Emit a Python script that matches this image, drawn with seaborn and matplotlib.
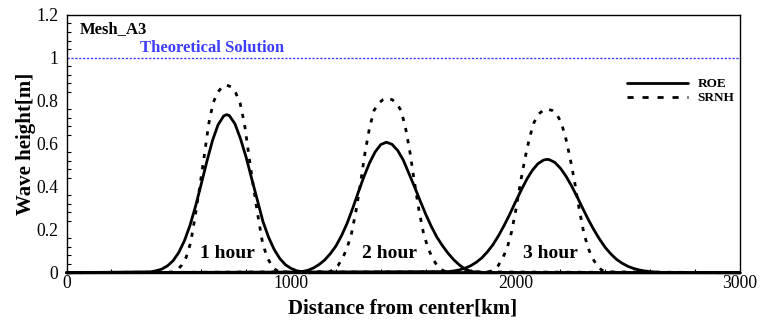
import matplotlib
matplotlib.use("Agg")
import numpy as np
import pandas as pd
import seaborn as sns
import matplotlib.pyplot as plt
from matplotlib.ticker import MultipleLocator, AutoMinorLocator, FuncFormatter
from matplotlib.lines import Line2D

# ---------------- data ----------------
roe1_x = [0, 375, 400, 425, 450, 475, 500, 525, 550, 575, 600, 625, 650, 675, 700, 713,
          725, 750, 775, 800, 825, 850, 875, 900, 925, 950, 975, 1000, 1025, 1050, 1075, 3000]
roe1_y = [0, 0.004, 0.009, 0.017, 0.032, 0.056, 0.094, 0.148, 0.220, 0.310, 0.412, 0.517, 0.614, 0.688, 0.729, 0.735,
          0.731, 0.693, 0.623, 0.537, 0.437, 0.338, 0.238, 0.165, 0.108, 0.066, 0.037, 0.020, 0.009, 0.004, 0.001, 0]

roe2_x = [0, 1025, 1050, 1075, 1100, 1125, 1150, 1175, 1200, 1225, 1250, 1275, 1300, 1325, 1350, 1375, 1400, 1425,
          1450, 1475, 1500, 1525, 1550, 1575, 1600, 1625, 1650, 1675, 1700, 1725, 1750, 1775, 1800, 1825, 1850, 3000]
roe2_y = [0, 0.001, 0.005, 0.011, 0.022, 0.038, 0.059, 0.088, 0.124, 0.172, 0.230, 0.300, 0.375, 0.447, 0.511, 0.562, 0.596, 0.607,
          0.597, 0.569, 0.524, 0.462, 0.400, 0.335, 0.272, 0.215, 0.165, 0.125, 0.090, 0.060, 0.036, 0.017, 0.007, 0.002, 0.0, 0]

roe3_x = [0, 1700, 1725, 1750, 1775, 1800, 1825, 1850, 1875, 1900, 1925, 1950, 1975, 2000, 2025, 2050, 2075, 2100, 2125, 2140,
          2150, 2175, 2200, 2225, 2250, 2275, 2300, 2325, 2350, 2375, 2400, 2425, 2450, 2475, 2500, 2525, 2550, 2575, 2600,
          2625, 2650, 3000]
roe3_y = [0, 0.005, 0.008, 0.013, 0.021, 0.032, 0.048, 0.069, 0.097, 0.131, 0.173, 0.221, 0.273, 0.329, 0.383, 0.434, 0.476, 0.507, 0.524, 0.527,
          0.526, 0.513, 0.486, 0.449, 0.403, 0.352, 0.298, 0.246, 0.198, 0.155, 0.117, 0.087, 0.062, 0.044, 0.030, 0.020, 0.013, 0.008, 0.005,
          0.003, 0.001, 0]

srnh1_x = [0, 473, 493, 513, 533, 553, 573, 593, 613, 633, 653, 673, 693, 713, 733, 753, 773, 793, 813, 833, 853, 873,
           893, 913, 933, 953, 3000]
srnh1_y = [0, 0.003, 0.012, 0.035, 0.072, 0.140, 0.262, 0.395, 0.540, 0.690, 0.790, 0.838, 0.864, 0.873, 0.864, 0.838, 0.790,
           0.690, 0.540, 0.395, 0.262, 0.140, 0.072, 0.035, 0.012, 0.003, 0]

srnh2_x = [0, 1170, 1190, 1210, 1230, 1250, 1270, 1290, 1310, 1330, 1350, 1370, 1390, 1410, 1430, 1450, 1470, 1490, 1510,
           1530, 1550, 1570, 1590, 1610, 1630, 1650, 1670, 1690, 3000]
srnh2_y = [0, 0.004, 0.014, 0.034, 0.068, 0.115, 0.185, 0.290, 0.420, 0.560, 0.675, 0.755, 0.788, 0.805, 0.811, 0.805, 0.788,
           0.755, 0.675, 0.560, 0.420, 0.290, 0.185, 0.115, 0.068, 0.034, 0.014, 0.004, 0]

srnh3_x = [0, 1883, 1903, 1923, 1943, 1963, 1983, 2003, 2023, 2043, 2063, 2083, 2103, 2123, 2143, 2163, 2183, 2203, 2223,
           2243, 2263, 2283, 2303, 2323, 2343, 2363, 2383, 2403, 3000]
srnh3_y = [0, 0.004, 0.013, 0.033, 0.068, 0.115, 0.192, 0.300, 0.425, 0.535, 0.630, 0.700, 0.738, 0.755, 0.760, 0.755, 0.738,
           0.700, 0.630, 0.535, 0.425, 0.300, 0.192, 0.115, 0.068, 0.033, 0.013, 0.004, 0]

methods = ["ROE", "SRNH"]
hour_labels = ["1 hour", "2 hour", "3 hour"]
hour_label_x = [719, 1437, 2157]
hour_label_y = [0.087, 0.087, 0.087]
theory_value = 1.0
x_ticks = [0, 1000, 2000, 3000]
y_ticks = [0, 0.2, 0.4, 0.6, 0.8, 1.0, 1.2]

# ---------------- build long-form table ----------------
series = {
    ("ROE", 1): (roe1_x, roe1_y), ("ROE", 2): (roe2_x, roe2_y), ("ROE", 3): (roe3_x, roe3_y),
    ("SRNH", 1): (srnh1_x, srnh1_y), ("SRNH", 2): (srnh2_x, srnh2_y), ("SRNH", 3): (srnh3_x, srnh3_y),
}
rows = []
for (m, h), (xs, ys) in series.items():
    for xv, yv in zip(xs, ys):
        rows.append({"method": m, "hour": h, "x": xv, "y": yv})
df = pd.DataFrame(rows)
df["unit"] = df["method"] + df["hour"].astype(str)

# ---------------- figure ----------------
sns.set_theme(style="white")
plt.rcParams["font.family"] = ["Liberation Serif", "DejaVu Serif"]
plt.rcParams["text.color"] = "black"
plt.rcParams["axes.labelcolor"] = "black"
plt.rcParams["xtick.color"] = "black"
plt.rcParams["ytick.color"] = "black"

fig = plt.figure(figsize=(7.62, 3.21), dpi=100)
ax = fig.add_axes([0.0873, 0.1505, 0.8838, 0.8037])

blue = "#3d3dff"
ax.axhline(theory_value, color=blue, lw=1.0, linestyle=(0, (1.6, 1.2)), zorder=1)

curve_dash = (1.5, 2.6)
sns.lineplot(data=df, x="x", y="y", units="unit", style="method", estimator=None, sort=False,
             dashes={"ROE": "", "SRNH": curve_dash}, color="black", lw=2.0, legend=False,
             ax=ax, clip_on=False, zorder=3)

ax.set_xlim(0, 3000)
ax.set_ylim(0, 1.2)
ax.set_xticks(x_ticks)
ax.set_yticks(y_ticks)
ax.xaxis.set_minor_locator(AutoMinorLocator(5))
ax.yaxis.set_minor_locator(AutoMinorLocator(5))
ax.yaxis.set_major_formatter(FuncFormatter(lambda v, p: f"{v:g}"))
ax.xaxis.set_major_formatter(FuncFormatter(lambda v, p: f"{v:g}"))
ax.tick_params(axis="both", which="major", direction="in", length=6, width=1, labelsize=12.7,
               colors="black", labelcolor="black", top=False, right=False)
ax.tick_params(axis="both", which="minor", direction="in", length=3, width=0.8, colors="black",
               top=False, right=False, bottom=True, left=True)
ax.tick_params(axis="x", which="major", pad=2)
ax.tick_params(axis="y", which="major", pad=6)
for s in ax.spines.values():
    s.set_color("black")
    s.set_linewidth(1.0)
ax.set_xlabel("")
ax.set_ylabel("")

fig.text(403 / 762, 1 - 309 / 321, "Distance from center[km]", ha="center", va="center",
         fontsize=15, fontweight="bold", color="black")
fig.text(26 / 762, 1 - 144 / 321, "Wave height[m]", ha="center", va="center", rotation=90,
         fontsize=15, fontweight="bold", color="black")

ax.text(0.02, 0.9446, "Mesh_A3", transform=ax.transAxes, ha="left", va="center",
        fontsize=12, fontweight="bold", color="black")
ax.text(0.109, 0.871, "Theoretical Solution", transform=ax.transAxes, ha="left", va="center",
        fontsize=12, fontweight="bold", color=blue)

for lab, hx, hy in zip(hour_labels, hour_label_x, hour_label_y):
    ax.text(hx, hy, lab, ha="center", va="center", fontsize=14, fontweight="bold",
            color="black", zorder=5)

handles = [Line2D([], [], color="black", lw=2.0),
           Line2D([], [], color="black", lw=2.0, linestyle=(0, (2.2, 3.2)))]
leg = ax.legend(handles, methods, loc="upper left", bbox_to_anchor=(0.832, 0.755),
                frameon=False, handlelength=4.6, handletextpad=0.75, borderpad=0, borderaxespad=0,
                labelspacing=0.15, prop={"weight": "bold", "size": 9.5})
for t in leg.get_texts():
    t.set_color("black")

fig.savefig("out.png", dpi=100)
